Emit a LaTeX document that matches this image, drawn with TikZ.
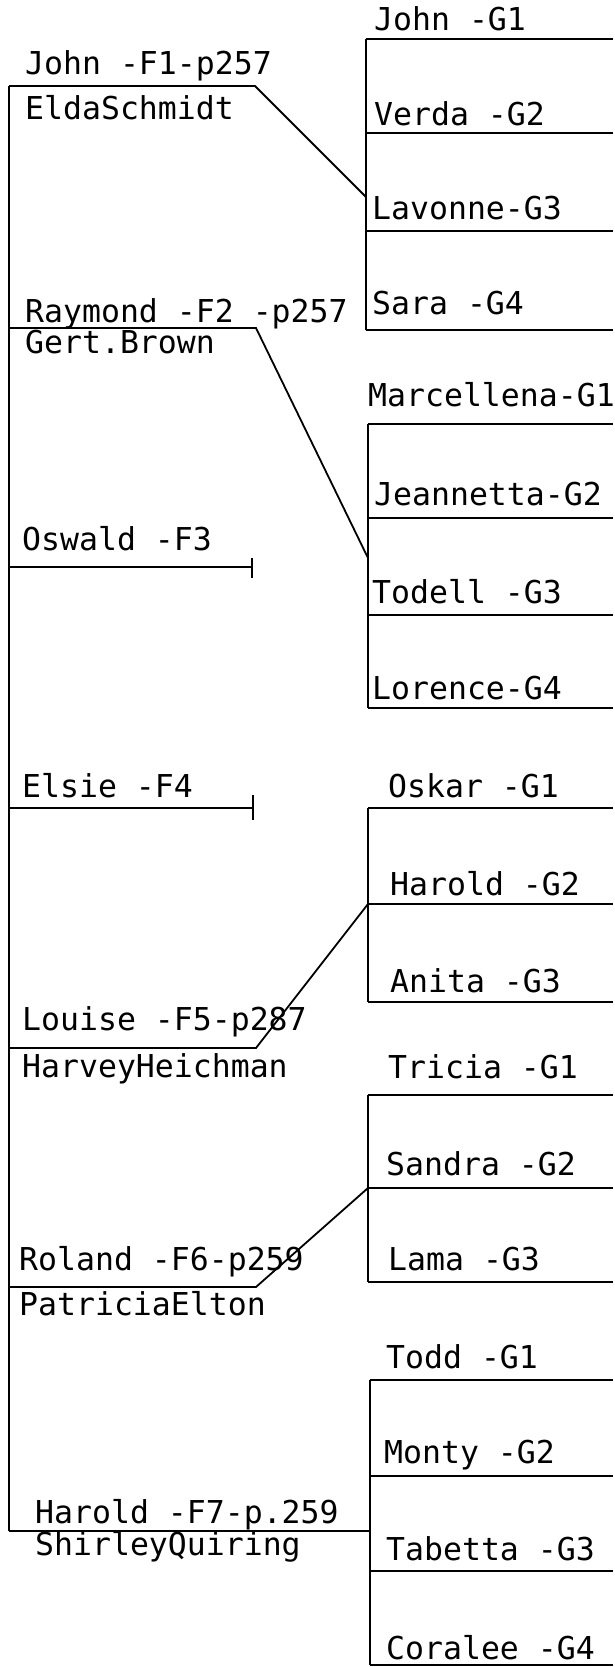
\documentclass[tikz,border=0pt]{standalone}
\usepackage{fontspec}
\newfontfamily\plotfont{DejaVu Sans Mono}
\usepackage{tikz}
\usetikzlibrary{
  positioning
}
\tikzset{
  famname/.style={anchor=base west, inner sep=0pt,
    font=\plotfont\fontsize{31.5}{36}\selectfont},
  kidname/.style={famname},
  famline/.style={draw, line width=1.8pt},
}

\begin{document}
\begin{tikzpicture}[x=1pt, y=-1pt]
  \useasboundingbox (0,0) rectangle (615,1667);
  \coordinate (rim) at (613,0);

  % Family spine
  \coordinate (f1) at (9,86);
  \coordinate (f2) at (9,328);
  \coordinate (f3) at (9,567);
  \coordinate (f4) at (9,808);
  \coordinate (f5) at (9,1048);
  \coordinate (f6) at (9,1287);
  \coordinate (f7) at (9,1531);
  \draw[famline] (f1) -- (f7);

  % F1
  \node[famname] (john) at (25,75) {John -F1-p257};
  \node[famname, below=45pt of john.base west, anchor=base west] (elda) {EldaSchmidt};
  \coordinate (f1k) at (255,86);
  \coordinate (ga) at (366,197);
  \draw[famline] (f1) -- (f1k) -- (ga);

  % F2
  \node[famname] (raymond) at (25,322) {Raymond -F2 -p257};
  \node[famname, below=31pt of raymond.base west, anchor=base west] (gert) {Gert.Brown};
  \coordinate (f2k) at (256,328);
  \coordinate (gb) at (368,558);
  \draw[famline] (f2) -- (f2k) -- (gb);

  % F3 and F4
  \node[famname] (oswald) at (22,550) {Oswald -F3};
  \coordinate (f3k) at (252,567);
  \draw[famline] (f3) -- (f3k);
  \draw[famline] ([yshift=9pt]f3k) -- ([yshift=-11pt]f3k);
  \node[famname] (elsie) at (22,797) {Elsie -F4};
  \coordinate (f4k) at (253,808);
  \draw[famline] (f4) -- (f4k);
  \draw[famline] ([yshift=13pt]f4k) -- ([yshift=-12pt]f4k);

  % F5
  \node[famname] (louise) at (22,1030) {Louise -F5-p287};
  \node[famname, below=47pt of louise.base west, anchor=base west] (harvey) {HarveyHeichman};
  \coordinate (f5k) at (256,1048);
  \coordinate (gc) at (368,904);
  \draw[famline] (f5) -- (f5k) -- (gc);

  % F6
  \node[famname] (roland) at (19,1270) {Roland -F6-p259};
  \node[famname, below=45pt of roland.base west, anchor=base west] (patricia) {PatriciaElton};
  \coordinate (f6k) at (256,1287);
  \coordinate (gd) at (368,1188);
  \draw[famline] (f6) -- (f6k) -- (gd);

  % F7
  \node[famname] (harold) at (35,1523) {Harold -F7-p.259};
  \node[famname, below=32pt of harold.base west, anchor=base west] (shirley) {ShirleyQuiring};
  \coordinate (ge) at (370,1531);
  \draw[famline] (f7) -- (ge);

  % Children of F1
  \coordinate (ga1) at (366,39);
  \coordinate (ga2) at (366,133);
  \coordinate (ga3) at (366,231);
  \coordinate (ga4) at (366,330);
  \node[kidname] (johnk) at (374,31) {John -G1};
  \node[kidname] (verda) at (374,126) {Verda -G2};
  \node[kidname] (lavonne) at (372,219) {Lavonne-G3};
  \node[kidname] (sara) at (372,314) {Sara -G4};
  \draw[famline] (ga1) -- (ga4);
  \draw[famline] (ga1) -- (ga1 -| rim);
  \draw[famline] (ga2) -- (ga2 -| rim);
  \draw[famline] (ga3) -- (ga3 -| rim);
  \draw[famline] (ga4) -- (ga4 -| rim);

  % Children of F2
  \coordinate (gb1) at (368,424);
  \coordinate (gb2) at (368,518);
  \coordinate (gb3) at (368,615);
  \coordinate (gb4) at (368,708);
  \node[kidname] (marcellena) at (368,406) {Marcellena-G1};
  \node[kidname] (jeannetta) at (374,505) {Jeannetta-G2};
  \node[kidname] (todell) at (372,603) {Todell -G3};
  \node[kidname] (lorence) at (372,699) {Lorence-G4};
  \draw[famline] (gb1) -- (gb4);
  \draw[famline] (gb1) -- (gb1 -| rim);
  \draw[famline] (gb2) -- (gb2 -| rim);
  \draw[famline] (gb3) -- (gb3 -| rim);
  \draw[famline] (gb4) -- (gb4 -| rim);

  % Children of F5
  \coordinate (gc1) at (368,808);
  \coordinate (gc2) at (368,904);
  \coordinate (gc3) at (368,1002);
  \node[kidname] (oskar) at (388,797) {Oskar -G1};
  \node[kidname] (haroldk) at (390,895) {Harold -G2};
  \node[kidname] (anita) at (390,992) {Anita -G3};
  \draw[famline] (gc1) -- (gc3);
  \draw[famline] (gc1) -- (gc1 -| rim);
  \draw[famline] (gc2) -- (gc2 -| rim);
  \draw[famline] (gc3) -- (gc3 -| rim);

  % Children of F6
  \coordinate (gd1) at (368,1095);
  \coordinate (gd2) at (368,1188);
  \coordinate (gd3) at (368,1282);
  \node[kidname] (tricia) at (388,1078) {Tricia -G1};
  \node[kidname] (sandra) at (386,1175) {Sandra -G2};
  \node[kidname] (lama) at (388,1270) {Lama -G3};
  \draw[famline] (gd1) -- (gd3);
  \draw[famline] (gd1) -- (gd1 -| rim);
  \draw[famline] (gd2) -- (gd2 -| rim);
  \draw[famline] (gd3) -- (gd3 -| rim);

  % Children of F7
  \coordinate (ge1) at (370,1380);
  \coordinate (ge2) at (370,1476);
  \coordinate (ge3) at (370,1571);
  \coordinate (ge4) at (370,1665);
  \node[kidname] (todd) at (386,1368) {Todd -G1};
  \node[kidname] (monty) at (384,1463) {Monty -G2};
  \node[kidname] (tabetta) at (386,1560) {Tabetta -G3};
  \node[kidname] (coralee) at (386,1659) {Coralee -G4};
  \draw[famline] (ge1) -- (ge4);
  \draw[famline] (ge1) -- (ge1 -| rim);
  \draw[famline] (ge2) -- (ge2 -| rim);
  \draw[famline] (ge3) -- (ge3 -| rim);
  \draw[famline] (ge4) -- (ge4 -| rim);
\end{tikzpicture}
\end{document}
